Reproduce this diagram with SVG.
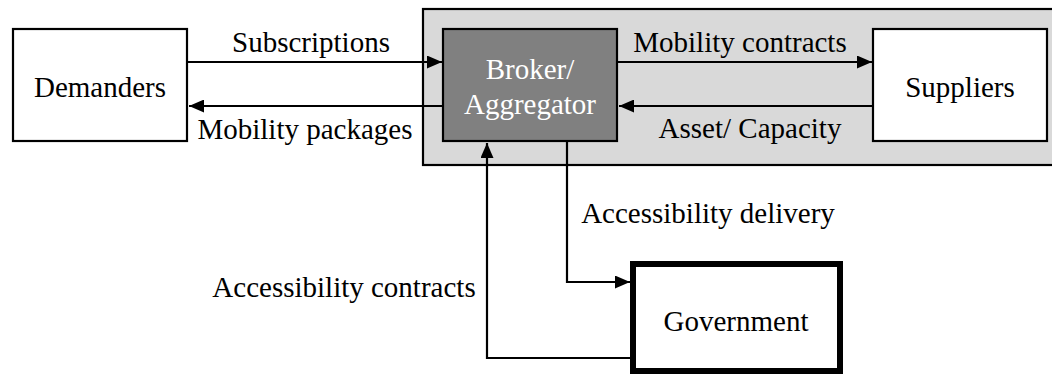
<svg xmlns="http://www.w3.org/2000/svg" width="1052" height="377" viewBox="0 0 1052 377">
<defs>
<marker id="ah" viewBox="0 0 15 13" refX="15" refY="6.5" markerWidth="15" markerHeight="13" markerUnits="userSpaceOnUse" orient="auto">
<path d="M0,0 L15,6.5 L0,13 Z" fill="#000"/>
</marker>
</defs>
<style>
text{font-family:"Liberation Serif","DejaVu Serif",serif;font-size:29px;fill:#000;text-anchor:middle}
.box{fill:#fff;stroke:#000;stroke-width:2.2}
.conn{fill:none;stroke:#000;stroke-width:2.2}
</style>
<rect width="1052" height="377" fill="#fff"/>
<g id="platform">
<rect x="423" y="9" width="640" height="156" fill="#d9d9d9" stroke="#000" stroke-width="2.2"/>
</g>
<g id="demanders">
<rect class="box" x="13" y="29" width="174" height="112"/>
<text x="100" y="97">Demanders</text>
</g>
<g id="broker">
<rect x="443" y="29" width="174" height="112" fill="#808080" stroke="#000" stroke-width="2.2"/>
<text x="530" y="79" style="fill:#fff">Broker/</text>
<text x="530" y="114" style="fill:#fff">Aggregator</text>
</g>
<g id="suppliers">
<rect class="box" x="873" y="29" width="174" height="112"/>
<text x="960" y="97">Suppliers</text>
</g>
<g id="government">
<rect x="633" y="264" width="207" height="107" fill="#fff" stroke="#000" stroke-width="6"/>
<text x="736" y="331">Government</text>
</g>
<g id="connectors">
<path class="conn" d="M188,62 L442,62" marker-end="url(#ah)"/>
<path class="conn" d="M442,106 L189,106" marker-end="url(#ah)"/>
<path class="conn" d="M618,62 L872,62" marker-end="url(#ah)"/>
<path class="conn" d="M872,106 L619,106" marker-end="url(#ah)"/>
<path class="conn" d="M567,142 L567,282 L630,282" marker-end="url(#ah)"/>
<path class="conn" d="M630,358 L487,358 L487,143" marker-end="url(#ah)"/>
<text x="311" y="52">Subscriptions</text>
<text x="305" y="139">Mobility packages</text>
<text x="740" y="52">Mobility contracts</text>
<text x="750" y="138">Asset/ Capacity</text>
<text x="708" y="223">Accessibility delivery</text>
<text x="344" y="297">Accessibility contracts</text>
</g>
</svg>
